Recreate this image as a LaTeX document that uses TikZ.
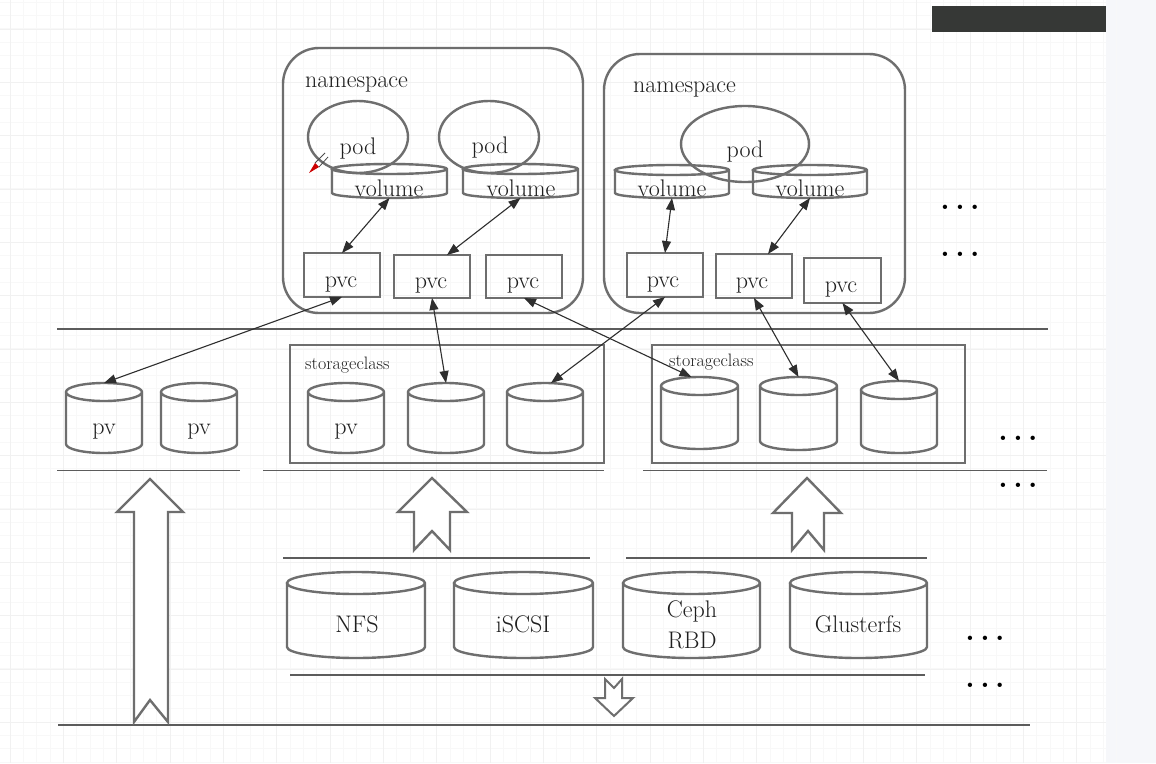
\documentclass[tikz,border=0pt]{standalone}
\usetikzlibrary{arrows.meta,shapes.geometric,calc}
\definecolor{shp}{HTML}{6E6E6E}
\definecolor{ln}{HTML}{5C5C5C}
\definecolor{cn}{HTML}{2E2E2E}
\definecolor{darkbar}{HTML}{363836}
\definecolor{strip}{HTML}{F6F7FA}
\definecolor{gmaj}{HTML}{F1F1F1}
\definecolor{gmin}{HTML}{F8F8F8}
\newcommand{\kcyl}[6]{%
  \node[hid, minimum width=#4pt, minimum height=#5pt] (#1) at (#2,{#3+#5/2}) {};
  \draw[shapeline] ([yshift=-#6pt]#1.north west) -- ([yshift=#6pt]#1.south west)
    arc[start angle=180,end angle=360,x radius={#4/2*1pt},y radius=#6pt]
    -- ([yshift=-#6pt]#1.north east)
    arc[start angle=0,end angle=360,x radius={#4/2*1pt},y radius=#6pt];
}
\begin{document}
\begin{tikzpicture}[x=1pt,y=-1pt,
  shapeline/.style={draw=shp, line width=2.4pt},
  sep/.style={draw=ln, line width=1.6pt},
  conn/.style={draw=cn, line width=1.1pt, {Triangle[length=12pt,width=9pt]}-{Triangle[length=12pt,width=9pt]}},
  lbl/.style={font=\fontsize{24}{31}\selectfont, inner sep=0pt, outer sep=0pt, anchor=base, text=black!88},
  sclbl/.style={font=\fontsize{18}{22}\selectfont, inner sep=0pt, anchor=base west, text=black!88},
  box/.style={draw=shp, line width=2.4pt, inner sep=0pt, outer sep=0pt, rectangle},
  nsbox/.style={draw=shp, line width=2.4pt, inner sep=0pt, outer sep=0pt, rectangle, rounded corners=36pt},
  podshape/.style={draw=shp, line width=2.4pt, ellipse, inner sep=0pt, outer sep=0pt},
  hid/.style={inner sep=0pt, outer sep=0pt, draw=none},
  bigarrow/.style={draw=shp, line width=2.4pt, fill=white, line join=miter},
  dots/.style={font=\fontsize{30}{34}\selectfont\bfseries, inner sep=0pt, anchor=base, text=black}
]
\useasboundingbox (0,0) rectangle (1156,763);
% background
\fill[white] (0,0) rectangle (1106,763);
\fill[strip] (1106,0) rectangle (1156,763);
\foreach \i in {0,...,83} {\draw[gmin, line width=0.6pt] ({10+\i*13.333},0) -- ({10+\i*13.333},763);}
\foreach \i in {0,...,57} {\draw[gmin, line width=0.6pt] (0,{2+\i*13.333}) -- (1106,{2+\i*13.333});}
\foreach \i in {0,...,20} {\draw[gmaj, line width=0.8pt] ({10+\i*53.333},0) -- ({10+\i*53.333},763);}
\foreach \i in {0,...,14} {\draw[gmaj, line width=0.8pt] (0,{29+\i*53.333}) -- (1106,{29+\i*53.333});}
\fill[darkbar] (932,6) rectangle (1106,32);

% separators
\draw[sep] (57,329) -- (1048,329);
\draw[sep] (57,470.5) -- (240,470.5);
\draw[sep] (263,470.5) -- (604,470.5);
\draw[sep] (643,470.5) -- (1047,470.5);
\draw[sep] (283,558) -- (590,558);
\draw[sep] (626,558) -- (927,558);
\draw[sep] (290,675) -- (925,675);
\draw[sep] (58,725) -- (1030,725);

% namespaces
\node[nsbox, minimum width=300pt, minimum height=265pt] (nsA) at (433,180.5) {};
\node[nsbox, minimum width=301pt, minimum height=259pt] (nsB) at (754.5,183.5) {};
\node[lbl, anchor=base west] (nsAt) at (305,87) {namespace};
\node[lbl, anchor=base west] (nsBt) at (633,92) {namespace};

% pods
\node[podshape, minimum width=100pt, minimum height=72pt] (podA1) at (358,137) {};
\node[podshape, minimum width=100pt, minimum height=72pt] (podA2) at (489,137) {};
\node[podshape, minimum width=128pt, minimum height=76pt] (podB) at (745,144) {};
\node[lbl] (podA1t) at (358,154) {pod};
\node[lbl] (podA2t) at (490,153) {pod};
\node[lbl] (podBt) at (745,157) {pod};

% volumes
\kcyl{volA1}{389.5}{164}{115}{34}{5}
\kcyl{volA2}{520.5}{164}{115}{34}{5}
\kcyl{volB1}{672}{165}{114}{33}{5}
\kcyl{volB2}{810}{165}{114}{33}{5}
\node[lbl] (volA1t) at (389,196) {volume};
\node[lbl] (volA2t) at (521,196) {volume};
\node[lbl] (volB1t) at (672,196) {volume};
\node[lbl] (volB2t) at (810,196) {volume};

% pvc boxes
\node[box, minimum width=76pt, minimum height=44pt] (pvcA1) at (342,275) {};
\node[box, minimum width=76pt, minimum height=43pt] (pvcA2) at (432,276.5) {};
\node[box, minimum width=76pt, minimum height=43pt] (pvcA3) at (524,276.5) {};
\node[box, minimum width=76pt, minimum height=44pt] (pvcB1) at (665,275) {};
\node[box, minimum width=76pt, minimum height=44pt] (pvcB2) at (754,276) {};
\node[box, minimum width=77pt, minimum height=45pt] (pvcB3) at (842.5,280.5) {};
\node[lbl] (pvcA1t) at (341,287) {pvc};
\node[lbl] (pvcA2t) at (431,288) {pvc};
\node[lbl] (pvcA3t) at (523,288) {pvc};
\node[lbl] (pvcB1t) at (663,287) {pvc};
\node[lbl] (pvcB2t) at (752,288) {pvc};
\node[lbl] (pvcB3t) at (841,292) {pvc};

% storageclass boxes
\node[box, minimum width=314pt, minimum height=118pt] (scA) at (447,404) {};
\node[box, minimum width=313pt, minimum height=118pt] (scB) at (808.5,404) {};
\node[sclbl] (scAt) at (305,369) {storageclass};
\node[sclbl] (scBt) at (669,366) {storageclass};

% pv cylinders
\kcyl{pv1}{104}{383}{76}{70}{9}
\kcyl{pv2}{199}{383}{76}{70}{9}
\kcyl{scA1}{346}{383}{76}{70}{9}
\kcyl{scA2}{446}{383}{76}{70}{9}
\kcyl{scA3}{545}{383}{76}{70}{9}
\kcyl{scB1}{699.5}{377}{77}{72}{9}
\kcyl{scB2}{798.5}{377}{77}{73}{9}
\kcyl{scB3}{899}{381}{76}{72}{9}
\node[lbl] (pv1t) at (104,434) {pv};
\node[lbl] (pv2t) at (199,434) {pv};
\node[lbl] (scA1t) at (346,434) {pv};

% backends
\kcyl{nfs}{356}{572}{138}{86}{11}
\kcyl{iscsi}{523.5}{572}{139}{86}{11}
\kcyl{ceph}{691.5}{572}{137}{86}{11}
\kcyl{gluster}{858.5}{572}{137}{86}{11}
\node[lbl] (nfst) at (357,632) {NFS};
\node[lbl] (iscsit) at (523,632) {iSCSI};
\node[lbl, align=center] (cepht) at (692,648) {Ceph\\RBD};
\node[lbl] (glustert) at (858,632) {Glusterfs};

% connectors
\draw[conn] (volA1.south) -- (pvcA1.north);
\draw[conn] (volA2.south) -- ([xshift=15pt]pvcA2.north);
\draw[conn] (volB1.south) -- (pvcB1.north);
\draw[conn] (volB2.south) -- ([xshift=14pt]pvcB2.north);
\draw[conn] (pvcA1.south) -- (pv1.north);
\draw[conn] (pvcA2.south) -- (scA2.north);
\draw[conn] (pvcA3.south) -- ([xshift=-8pt]scB1.north);
\draw[conn] (pvcB1.south) -- ([xshift=6pt]scA3.north);
\draw[conn] (pvcB2.south) -- (scB2.north);
\draw[conn] (pvcB3.south) -- (scB3.north);

% big arrows
\draw[bigarrow] (150,479) -- (183,512) -- (168,512) -- (168,722) -- (150,700) -- (134,722) -- (134,512) -- (117,512) -- cycle;
\draw[bigarrow] (432,478) -- (467,512) -- (450,512) -- (450,550) -- (432,531) -- (414,550) -- (414,512) -- (398,512) -- cycle;
\draw[bigarrow] (807,478) -- (841,513) -- (824,513) -- (824,550) -- (808,531) -- (792,550) -- (792,513) -- (773,513) -- cycle;
\draw[bigarrow, line width=2pt] (605,679) -- (614,688) -- (622,679) -- (622,698) -- (633,698) -- (614,716) -- (595,698) -- (605,698) -- cycle;

% cursor mark
\fill[red!80!black] (309,173) -- (315,163) -- (319,167) -- cycle;
\draw[black!70, line width=0.8pt] (315,163) -- (325,153) (319,167) -- (328,157);

% ellipsis dots
\node[dots] (d1) at (960,209) {.\hspace{5.5pt}.\hspace{5.5pt}.};
\node[dots] (d2) at (960,256) {.\hspace{5.5pt}.\hspace{5.5pt}.};
\node[dots] (d3) at (1018,440) {.\hspace{5.5pt}.\hspace{5.5pt}.};
\node[dots] (d4) at (1018,487) {.\hspace{5.5pt}.\hspace{5.5pt}.};
\node[dots] (d5) at (985,640) {.\hspace{5.5pt}.\hspace{5.5pt}.};
\node[dots] (d6) at (985,687) {.\hspace{5.5pt}.\hspace{5.5pt}.};
\end{tikzpicture}
\end{document}
